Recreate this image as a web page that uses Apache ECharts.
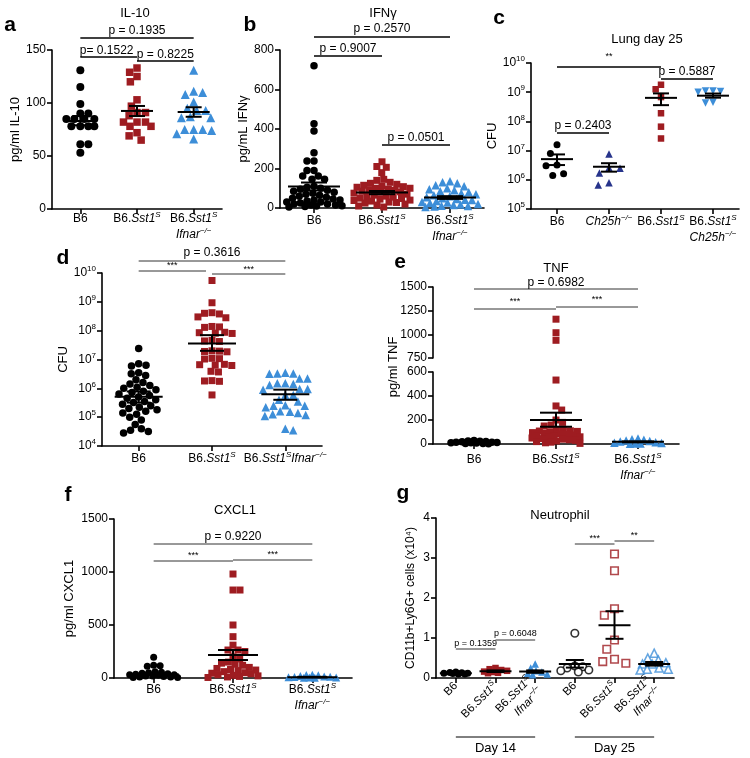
<!DOCTYPE html>
<html><head><meta charset="utf-8">
<script src="https://cdn.jsdelivr.net/npm/echarts@6.0.0/dist/echarts.min.js"></script>
<style>html,body{margin:0;padding:0;background:#fff;}#chart{width:750px;height:758px;}</style>
</head><body><div id="chart"></div>
<script>
// ===================== DATA =====================
// a: IL-10
const catsA = ['B6', 'B6.Sst1S', 'B6.Sst1S Ifnar−/−'];
const aB6 = [131, 115, 99, 90, 90, 85, 85, 85, 85, 78, 78, 78, 78, 61, 61, 53];
const aSst = [133, 129, 125, 120, 103, 97, 91, 91, 88, 82, 82, 82, 78, 78, 72, 69, 65];
const aIfnar = [131, 111, 110, 108, 101, 95, 93, 93, 87, 86, 86, 75, 75, 75, 74, 71, 66];
const aMean = [83, 92.5, 91.5], aLo = [79, 87.7, 87], aHi = [87.7, 97.2, 96];
// b: IFNγ
const catsB = ['B6', 'B6.Sst1S', 'B6.Sst1S Ifnar−/−'];
const bB6 = [720, 427, 390, 280, 238, 238, 190, 190, 162, 162, 146, 146, 110, 105, 100, 95, 90, 85, 80, 75, 70, 65, 60, 55, 50, 45, 40, 40, 35, 30, 30, 25, 20, 20, 15, 15, 12, 10, 8, 5];
const bSst = [234, 210, 206, 179, 145, 140, 130, 125, 120, 115, 110, 108, 105, 100, 100, 95, 92, 90, 85, 82, 80, 75, 70, 65, 60, 58, 55, 50, 48, 45, 40, 38, 35, 30, 28, 25, 20, 15, 10, 5];
const bIfnar = [135, 130, 125, 115, 110, 100, 95, 90, 85, 80, 75, 70, 65, 60, 55, 50, 45, 42, 40, 35, 30, 28, 25, 20, 18, 15, 12, 10, 8, 5];
const bMean = [109, 78, 53], bLo = [89, 70, 46], bHi = [129, 86, 60];
// c: Lung day 25 CFU
const catsC = ['B6', 'Ch25h−/−', 'B6.Sst1S', 'B6.Sst1S Ch25h−/−'];
const cB6 = [1.6e7, 8e6, 3.2e6, 3.0e6, 1.6e6, 1.4e6];
const cCh25h = [7.6e6, 2.5e6, 2.6e6, 1.7e6, 6.6e5, 8e5];
const cSst = [1.8e9, 1.26e9, 6.8e8, 1.9e8, 6.6e7, 2.6e7];
const cSstCh = [1.1e9, 1.05e9, 1.0e9, 1.1e9, 4.5e8, 4.3e8];
const cMean = [5.1e6, 2.8e6, 6.4e8, 7.6e8], cLo = [3.2e6, 1.9e6, 3.6e8, 6.5e8], cHi = [7.4e6, 3.7e6, 9.1e8, 9.0e8];
// d: CFU
const catsD = ['B6', 'B6.Sst1S', 'B6.Sst1SIfnar−/−'];
const dB6 = [2.4e7, 7.1e6, 6.3e6, 6.0e6, 3.5e6, 3.2e6, 2.8e6, 2.0e6, 1.6e6, 1.4e6, 1.26e6, 1.1e6, 1.0e6, 8.9e5, 7.9e5, 7.1e5, 6.3e5, 5.6e5, 5.0e5, 4.5e5, 4.0e5, 3.5e5, 3.2e5, 2.8e5, 2.5e5, 2.2e5, 2.0e5, 1.8e5, 1.6e5, 1.4e5, 1.26e5, 1.0e5, 7.9e4, 5.6e4, 4.0e4, 3.5e4, 3.2e4, 2.8e4];
const dSst = [5.5e9, 9.3e8, 4.2e8, 4.0e8, 3.8e8, 3.0e8, 2.8e8, 1.4e8, 1.35e8, 1.3e8, 8.8e7, 8.5e7, 8.2e7, 8.0e7, 4.6e7, 4.4e7, 4.2e7, 2.0e7, 1.95e7, 1.9e7, 1.85e7, 1.1e7, 1.07e7, 1.04e7, 6.8e6, 6.6e6, 6.4e6, 6.2e6, 3.9e6, 3.7e6, 1.85e6, 1.8e6, 1.75e6, 5.9e5];
const dIfnar = [3.5e6, 3.3e6, 3.3e6, 3.2e6, 2.2e6, 2.2e6, 1.5e6, 1.5e6, 1.4e6, 1.3e6, 9.5e5, 9.5e5, 8.9e5, 5.9e5, 5.9e5, 4e5, 3.5e5, 2.6e5, 2.5e5, 2.5e5, 2.2e5, 1.6e5, 1.55e5, 1.4e5, 1.26e5, 1.2e5, 1.1e5, 4e4, 3.5e4];
const dMean = [5.1e5, 3.6e7, 6.2e5], dLo = [3.2e5, 2.0e7, 4.0e5], dHi = [7.8e5, 7.0e7, 9.0e5];
// e: TNF
const catsE = ['B6', 'B6.Sst1S', 'B6.Sst1S Ifnar−/−'];
const eB6 = [30, 25, 22, 20, 18, 15, 15, 12, 10, 10, 8, 5, 5, 3];
const eSst = [1160, 1017, 937, 533, 317, 283, 200, 180, 158, 150, 120, 115, 110, 108, 105, 100, 95, 90, 85, 80, 75, 70, 65, 60, 55, 50, 45, 40, 35, 30, 25, 20, 15, 10, 5];
const eIfnar = [45, 40, 35, 30, 25, 20, 15, 10, 8, 5, 5, 3];
const eMean = [15, 200, 18], eLo = [12, 144, 14], eHi = [18, 261, 22];
// f: CXCL1
const catsF = ['B6', 'B6.Sst1S', 'B6.Sst1S Ifnar−/−'];
const fB6 = [195, 120, 115, 110, 60, 55, 50, 45, 40, 35, 30, 30, 25, 20, 20, 15, 10, 10, 5, 5];
const fSst = [981, 830, 830, 500, 390, 310, 264, 264, 250, 200, 180, 150, 140, 130, 120, 100, 90, 80, 75, 70, 60, 50, 45, 40, 30, 25, 20, 15, 10, 5];
const fIfnar = [30, 28, 25, 20, 15, 12, 10, 8, 5, 5, 3, 2];
const fMean = [35, 217, 8], fLo = [25, 170, 5], fHi = [45, 264, 11];
// g: Neutrophil
const catsG = ['B6', 'B6.Sst1S', 'B6.Sst1S Ifnar−/−', 'B6 ', 'B6.Sst1S ', 'B6.Sst1S Ifnar−/− '];
const gD14B6 = [0.15, 0.14, 0.13, 0.12, 0.12, 0.11, 0.1, 0.1];
const gD14Sst = [0.25, 0.22, 0.2, 0.18, 0.16, 0.15, 0.13, 0.12];
const gD14Ifnar = [0.35, 0.25, 0.18, 0.15, 0.12, 0.1, 0.08];
const gD25B6 = [1.12, 0.3, 0.28, 0.25, 0.2, 0.18, 0.15];
const gD25Sst = [3.1, 2.68, 1.73, 1.57, 0.95, 0.72, 0.47, 0.37, 0.41];
const gD25Ifnar = [0.62, 0.5, 0.45, 0.38, 0.35, 0.35, 0.25, 0.22, 0.22, 0.2];
const gMean = [0.12, 0.17, 0.16, 0.35, 1.32, 0.35], gLo = [0.11, 0.15, 0.13, 0.26, 0.98, 0.31], gHi = [0.13, 0.19, 0.19, 0.45, 1.67, 0.40];

// ===================== RENDERING =====================
const FONT = '"Liberation Sans", Arial, sans-serif';
const RED = '#9e1c21', BLUE = '#3d8ed8', NAVY = '#27348b', BLACK = '#000000';

function rich(fs) {
  return {
    i: {fontStyle: 'italic', fontSize: fs, fontFamily: FONT, color: '#000', lineHeight: fs + 4},
    s: {fontStyle: 'italic', fontSize: Math.round(fs * 0.68), fontFamily: FONT, color: '#000', lineHeight: Math.round(fs * 0.68), verticalAlign: 'top'},
    b: {fontSize: fs, fontFamily: FONT, color: '#000', lineHeight: fs + 4},
    e: {fontSize: Math.round(fs * 0.68), fontFamily: FONT, color: '#000', lineHeight: Math.round(fs * 0.68), verticalAlign: 'top'}
  };
}
function lbl(v) {
  const t = v.trim();
  const map = {
    'B6': 'B6',
    'B6.Sst1S': 'B6.{i|Sst1}{s|S}',
    'B6.Sst1S Ifnar−/−': 'B6.{i|Sst1}{s|S}\n{i|Ifnar}{s|−/−}',
    'B6.Sst1SIfnar−/−': 'B6.{i|Sst1}{s|S}{i|Ifnar}{s|−/−}',
    'Ch25h−/−': '{i|Ch25h}{s|−/−}',
    'B6.Sst1S Ch25h−/−': 'B6.{i|Sst1}{s|S}\n{i|Ch25h}{s|−/−}'
  };
  return map[t] || t;
}
const logFmt = v => '{b|10}{e|' + Math.round(Math.log10(v)) + '}';
const numFmt = v => String(v);

const grids = [], xAxes = [], yAxes = [];
function addGrid(g, cats, ycfg, opts) {
  opts = opts || {};
  const fs = opts.fs || 12;
  const gi = grids.length;
  grids.push({left: g.left, top: g.top, width: g.width, height: g.height});
  const xc = xAxes.length;
  xAxes.push({
    type: 'category', gridIndex: gi, data: cats, boundaryGap: true, show: opts.showX !== false, position: 'bottom',
    axisLine: {show: true, onZero: false, lineStyle: {color: '#000', width: 1.6}},
    axisTick: {show: true, alignWithLabel: true, length: 5, lineStyle: {color: '#000', width: 1.6}},
    axisLabel: {color: '#000', fontSize: fs, fontFamily: FONT, lineHeight: fs + 4, margin: opts.margin != null ? opts.margin : 5,
      interval: 0, rotate: opts.rotate || 0, formatter: lbl, rich: rich(fs)},
    splitLine: {show: false}
  });
  const xv = xAxes.length;
  xAxes.push({type: 'value', gridIndex: gi, min: -0.5, max: cats.length - 0.5, show: false, position: 'top',
    axisLine: {onZero: false}, splitLine: {show: false}});
  const yi = yAxes.length;
  const y = Object.assign({
    gridIndex: gi, position: 'left',
    axisLine: {show: true, onZero: false, lineStyle: {color: '#000', width: 1.6}},
    axisTick: {show: true, length: 5, lineStyle: {color: '#000', width: 1.6}},
    splitLine: {show: false}, minorTick: {show: false},
    nameLocation: 'middle', nameRotate: 90,
    nameTextStyle: {color: '#000', fontSize: 13, fontFamily: FONT}
  }, ycfg);
  y.axisLabel = Object.assign({color: '#000', fontSize: 12, fontFamily: FONT, margin: 6, lineHeight: 16, rich: rich(12), formatter: numFmt}, ycfg.axisLabel || {});
  yAxes.push(y);
  return {gi, xc, xv, yi, g, n: cats.length};
}

// panels
const PA = addGrid({left: 52, top: 50, width: 170, height: 159}, catsA,
  {type: 'value', min: 0, max: 150, interval: 50, name: 'pg/ml IL-10', nameGap: 29}, {margin: 2});
const PB = addGrid({left: 280, top: 50, width: 204, height: 158}, catsB,
  {type: 'value', min: 0, max: 800, interval: 200, name: 'pg/mL IFNγ', nameGap: 22}, {margin: 5});
const PC = addGrid({left: 531, top: 63, width: 208, height: 146}, catsC,
  {type: 'log', logBase: 10, min: 1e5, max: 1e10, name: 'CFU', nameGap: 23, axisLabel: {formatter: logFmt}}, {margin: 5});
const PD = addGrid({left: 102, top: 273, width: 220, height: 173}, catsD,
  {type: 'log', logBase: 10, min: 1e4, max: 1e10, name: 'CFU', nameGap: 31, axisLabel: {formatter: logFmt}}, {margin: 5});
const PEu = addGrid({left: 433, top: 287, width: 246, height: 71}, catsE,
  {type: 'value', min: 750, max: 1500, interval: 250}, {showX: false});
const PEl = addGrid({left: 433, top: 372, width: 246, height: 72}, catsE,
  {type: 'value', min: 0, max: 600, interval: 200}, {margin: 8});
const PF = addGrid({left: 114, top: 519, width: 238, height: 159}, catsF,
  {type: 'value', min: 0, max: 1500, interval: 500, name: 'pg/ml CXCL1', nameGap: 38}, {margin: 4});
const PG = addGrid({left: 436, top: 518, width: 238, height: 160}, catsG,
  {type: 'value', min: 0, max: 4, interval: 1, name: 'CD11b+Ly6G+ cells (x10⁴)', nameGap: 19,
   nameTextStyle: {color: '#000', fontSize: 12, fontFamily: FONT}}, {margin: 6, rotate: 45, fs: 11.5});

// groups of points
const groups = [];
function grp(P, idx, vals, symbol, color, size, D, maxHalf, extra) {
  groups.push(Object.assign({P, idx, vals, symbol, color, size, D, maxHalf}, extra || {}));
}
grp(PA, 0, aB6, 'circle', BLACK, 8, 8, 14);
grp(PA, 1, aSst, 'rect', RED, 7.5, 8.5, 14);
grp(PA, 2, aIfnar, 'triangle', BLUE, 9, 9, 18);
grp(PB, 0, bB6, 'circle', BLACK, 7.5, 7, 28);
grp(PB, 1, bSst, 'rect', RED, 7, 7, 28);
grp(PB, 2, bIfnar, 'triangle', BLUE, 8.5, 7.5, 28);
grp(PC, 0, cB6, 'circle', BLACK, 7, 11, 12);
grp(PC, 1, cCh25h, 'triangle', NAVY, 7.5, 11, 12);
grp(PC, 2, cSst, 'rect', RED, 6.5, 7, 12);
grp(PC, 3, cSstCh, 'triangle', BLUE, 7.5, 7.5, 18, {rotate: 180});
grp(PD, 0, dB6, 'circle', BLACK, 7.5, 7.5, 24);
grp(PD, 1, dSst, 'rect', RED, 7, 7.5, 24);
grp(PD, 2, dIfnar, 'triangle', BLUE, 8.5, 8, 26);
grp(PEl, 0, eB6, 'circle', BLACK, 7.5, 6, 23);
grp(PEl, 1, eSst.filter(v => v <= 600), 'rect', RED, 7, 7, 24);
grp(PEu, 1, eSst.filter(v => v > 600), 'rect', RED, 7, 7, 24);
grp(PEl, 2, eIfnar, 'triangle', BLUE, 8.5, 6, 24);
grp(PF, 0, fB6, 'circle', BLACK, 7, 6.5, 24);
grp(PF, 1, fSst, 'rect', RED, 7, 7, 25);
grp(PF, 2, fIfnar, 'triangle', BLUE, 8, 6, 24);
grp(PG, 0, gD14B6, 'circle', BLACK, 7, 6, 12);
grp(PG, 1, gD14Sst, 'rect', RED, 6.5, 6, 12);
grp(PG, 2, gD14Ifnar, 'triangle', BLUE, 7.5, 6, 12);
grp(PG, 3, gD25B6, 'circle', BLACK, 7.5, 8, 14, {open: true});
grp(PG, 4, gD25Sst, 'rect', RED, 7.5, 12, 14, {open: true});
grp(PG, 5, gD25Ifnar, 'triangle', BLUE, 8, 8, 14, {open: true});

const stats = [
  [PA, aMean, aLo, aHi, 16, 8], [PB, bMean, bLo, bHi, 26, 13], [PC, cMean, cLo, cHi, 16, 8],
  [PD, dMean, dLo, dHi, 24, 12], [PEl, eMean, eLo, eHi, 26, 16], [PF, fMean, fLo, fHi, 25, 15],
  [PG, gMean, gLo, gHi, 16, 9]
];

function swarm(ys, D, maxHalf) {
  const order = ys.map((y, i) => i).sort((a, b) => ys[a] - ys[b]);
  const placed = [], off = new Array(ys.length).fill(0), D2 = D * D;
  let flip = 1;
  for (const i of order) {
    const y = ys[i];
    const near = placed.filter(p => Math.abs(p.y - y) < D);
    const cands = [0];
    near.forEach(p => { const dx = Math.sqrt(D2 - (p.y - y) * (p.y - y)); cands.push(p.x + dx, p.x - dx); });
    cands.sort((a, b) => (Math.abs(a) - Math.abs(b)) || (flip * (b - a)));
    let best = null;
    for (const c of cands) {
      if (Math.abs(c) > maxHalf + 0.01) continue;
      if (near.every(p => (p.x - c) * (p.x - c) + (p.y - y) * (p.y - y) >= D2 - 0.5)) { best = c; break; }
    }
    if (best === null) {
      let bd = -1;
      for (let c = -maxHalf; c <= maxHalf; c += 0.5) {
        let md = Infinity;
        near.forEach(p => { md = Math.min(md, (p.x - c) * (p.x - c) + (p.y - y) * (p.y - y)); });
        if (md > bd) { bd = md; best = c; }
      }
    }
    flip = -flip;
    off[i] = best; placed.push({x: best, y});
  }
  return off;
}

// graphics helpers
function T(x, y, text, fs, o) {
  o = o || {};
  return {type: 'text', x, y, rotation: o.rot || 0, silent: true, z: 10,
    style: {text, fill: o.color || '#000', font: (o.bold ? 'bold ' : '') + fs + 'px ' + FONT,
      align: 'center', verticalAlign: 'middle', textAlign: 'center', textVerticalAlign: 'middle'}};
}
function L(x1, y1, x2, y2, lw, color) {
  return {type: 'line', silent: true, z: 10, shape: {x1, y1, x2, y2}, style: {stroke: color || '#000', lineWidth: lw || 1.3}};
}
function cx(P, i) { return P.g.left + (i + 0.5) * P.g.width / P.n; }
const graphics = [];
function br(P, i, j, y, label, ty, o) {
  o = o || {};
  const x1 = cx(P, i) - (o.gl || 0), x2 = cx(P, j) - (o.gr || 0);
  graphics.push(L(x1, y, x2, y, o.lw || 1.3, o.color || '#000'));
  graphics.push(T((x1 + x2) / 2 + (o.dx || 0), ty, label, o.fs || 12, {color: o.tcolor || '#000'}));
}
const GR = '#333';
// panel letters
[['a', 10, 25], ['b', 250, 25], ['c', 499, 18], ['d', 63, 258], ['e', 400, 262], ['f', 68, 495], ['g', 403, 493]]
  .forEach(l => graphics.push(T(l[1], l[2], l[0], 21, {bold: true})));
// titles
graphics.push(T(135, 13, 'IL-10', 13), T(383, 13, 'IFNγ', 13), T(647, 39, 'Lung day 25', 13),
  T(556, 268, 'TNF', 13), T(235, 510, 'CXCL1', 13), T(560, 515, 'Neutrophil', 13));
graphics.push(T(393, 367, 'pg/ml TNF', 13, {rot: Math.PI / 2}));
// brackets
br(PA, 0, 2, 38, 'p = 0.1935', 31);
br(PA, 0, 1, 57, 'p= 0.1522', 51, {dx: -2});
br(PA, 1, 2, 61, 'p = 0.8225', 55);
br(PB, 0, 2, 37, 'p = 0.2570', 29);
br(PB, 0, 1, 56, 'p = 0.9007', 49);
br(PB, 1, 2, 145, 'p = 0.0501', 138);
br(PC, 0, 2, 67, '**', 57, {fs: 9});
br(PC, 2, 3, 79, 'p = 0.5887', 72);
br(PC, 0, 1, 133, 'p = 0.2403', 126);
br(PD, 0, 2, 261, 'p = 0.3616', 253, {lw: 1, color: GR});
br(PD, 0, 1, 271, '***', 266, {lw: 1, color: GR, gr: 6, fs: 9});
br(PD, 1, 2, 274, '***', 270, {lw: 1, color: GR, fs: 9});
br(PEl, 0, 2, 289, 'p = 0.6982', 283, {lw: 1, color: GR});
br(PEl, 0, 1, 309, '***', 302, {lw: 1, color: GR, fs: 9});
br(PEl, 1, 2, 307, '***', 300, {lw: 1, color: GR, fs: 9});
br(PF, 0, 2, 544, 'p = 0.9220', 537, {lw: 1, color: GR});
br(PF, 0, 1, 561, '***', 556, {lw: 1, color: GR, fs: 9});
br(PF, 1, 2, 560, '***', 555, {lw: 1, color: GR, fs: 9});
br(PG, 0, 1, 649, 'p = 0.1359', 644, {lw: 1, color: GR, fs: 9});
br(PG, 1, 2, 640, 'p = 0.6048', 634, {lw: 1, color: GR, fs: 9});
br(PG, 3, 4, 544, '***', 539, {lw: 1, color: GR, fs: 9});
br(PG, 4, 5, 541, '**', 536, {lw: 1, color: GR, fs: 9});
br(PG, 0, 2, 737, 'Day 14', 748, {lw: 1, color: '#000', fs: 13});
br(PG, 3, 5, 737, 'Day 25', 748, {lw: 1, color: '#000', fs: 13});

const chart = echarts.init(document.getElementById('chart'), null, {renderer: 'canvas', width: 750, height: 758});
const base = {animation: false, backgroundColor: '#fff', grid: grids, xAxis: xAxes, yAxis: yAxes, series: []};
chart.setOption(base);

const series = [];
groups.forEach(G => {
  const ys = G.vals.map(v => chart.convertToPixel({yAxisIndex: G.P.yi}, v));
  const off = swarm(ys, G.D, G.maxHalf);
  const catW = G.P.g.width / G.P.n;
  series.push({
    type: 'scatter', xAxisIndex: G.P.xv, yAxisIndex: G.P.yi, symbol: G.symbol, symbolSize: G.size,
    symbolRotate: G.rotate || 0, silent: true, z: 3,
    itemStyle: G.open ? {color: '#fff', borderColor: G.color, borderWidth: 1.6} : {color: G.color, opacity: 1},
    data: G.vals.map((v, k) => [G.idx + off[k] / catW, v])
  });
});
stats.forEach(s => {
  const [P, mean, lo, hi, MH, SH] = s;
  series.push({
    type: 'custom', xAxisIndex: P.xv, yAxisIndex: P.yi, z: 5, silent: true, clip: false,
    encode: {x: 0, y: 1},
    data: mean.map((m, i) => [i, m, lo[i], hi[i]]),
    renderItem: (params, api) => {
      const i = api.value(0);
      const pm = api.coord([i, api.value(1)]), pl = api.coord([i, api.value(2)]), ph = api.coord([i, api.value(3)]);
      const st = {stroke: '#000', lineWidth: 2};
      return {type: 'group', children: [
        {type: 'line', shape: {x1: pm[0] - MH, y1: pm[1], x2: pm[0] + MH, y2: pm[1]}, style: st},
        {type: 'line', shape: {x1: ph[0] - SH, y1: ph[1], x2: ph[0] + SH, y2: ph[1]}, style: st},
        {type: 'line', shape: {x1: pl[0] - SH, y1: pl[1], x2: pl[0] + SH, y2: pl[1]}, style: st},
        {type: 'line', shape: {x1: pl[0], y1: pl[1], x2: ph[0], y2: ph[1]}, style: st}
      ]};
    }
  });
});
chart.setOption({series: series, graphic: {elements: graphics}});
</script></body></html>
